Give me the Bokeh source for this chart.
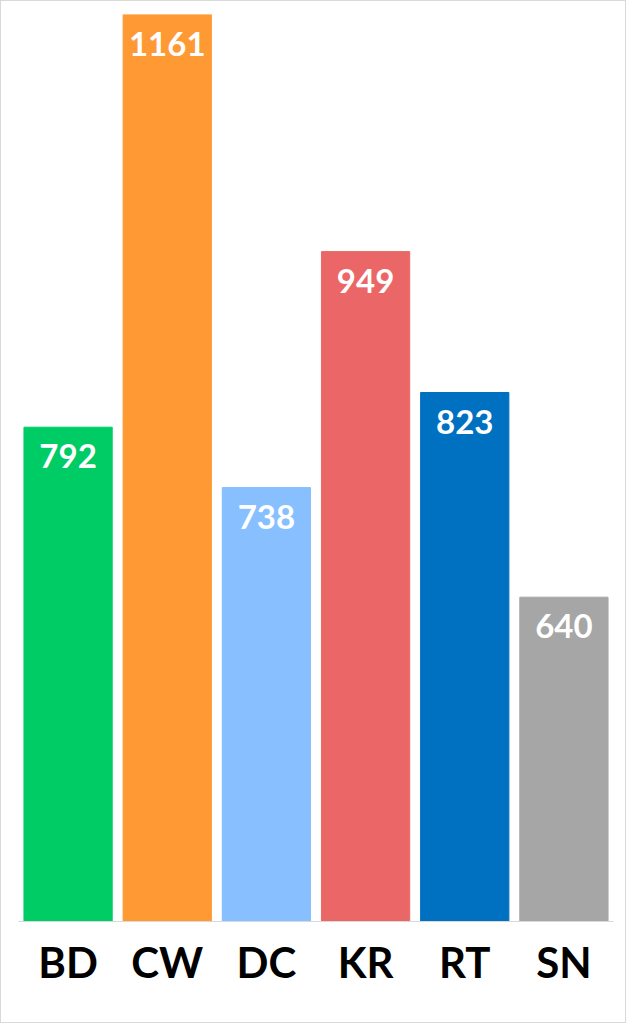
from bokeh.plotting import figure
from bokeh.models import ColumnDataSource, FactorRange, Range1d
from bokeh.core.properties import value
from bokeh.embed import file_html
from bokeh.resources import INLINE

categories = ["BD", "CW", "DC", "KR", "RT", "SN"]
values = [792, 1161, 738, 949, 823, 640]
colors = ["#00CC66", "#FF9933", "#87BFFF", "#EB6767", "#0070C0", "#A6A6A6"]
labels = [str(v) for v in values]

src = ColumnDataSource(dict(cat=categories, val=values, color=colors, label=labels))

p = figure(
    x_range=FactorRange(*categories, range_padding=0),
    y_range=Range1d(350, 1161),
    width=626, height=1023,
    output_backend="svg", toolbar_location=None,
    min_border_left=17, min_border_right=14, min_border_top=13, min_border_bottom=103,
)
p.styles = {"border": "1px solid #D9D9D9"}

p.vbar(x="cat", top="val", bottom=350, width=0.89, color="color", source=src)
p.text(x="cat", y="val", text="label", source=src,
       text_color="white", text_font=value("Lato"), text_font_style="bold",
       text_font_size="33px", text_align="center", text_baseline="alphabetic",
       y_offset=29)

p.yaxis.visible = False
p.xgrid.grid_line_color = None
p.ygrid.grid_line_color = None
p.outline_line_color = None
p.xaxis.axis_line_color = "#D9D9D9"
p.xaxis.axis_line_width = 1
p.xaxis.major_tick_line_color = None
p.xaxis.minor_tick_line_color = None
p.xaxis.major_label_text_font = "Lato"
p.xaxis.major_label_text_font_style = "bold"
p.xaxis.major_label_text_font_size = "42px"
p.xaxis.major_label_text_color = "black"
p.xaxis.major_label_standoff = 9

open("out.html", "w").write(file_html(p, INLINE))
